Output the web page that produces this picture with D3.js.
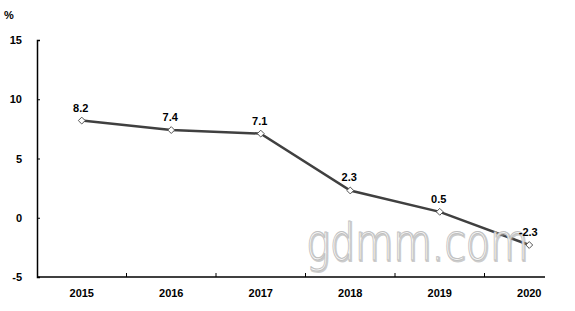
<!DOCTYPE html>
<html>
<head>
<meta charset="utf-8">
<script src="https://cdn.jsdelivr.net/npm/d3@7"></script>
<style>
body { margin: 0; background: #fff; }
svg { display: block; }
</style>
</head>
<body>
<div id="chart"></div>
<script>
var years = ["2015", "2016", "2017", "2018", "2019", "2020"];
var values = [8.2, 7.4, 7.1, 2.3, 0.5, -2.3];
var yTicks = [-5, 0, 5, 10, 15];

var width = 575, height = 311;
var plotLeft = 37, plotTop = 40, plotBottom = 277, plotRight = 574;

var svg = d3.select("#chart").append("svg")
	.attr("width", width)
	.attr("height", height);

var x = d3.scaleBand().domain(years).range([plotLeft, plotRight]);
var y = d3.scaleLinear().domain([-5, 15]).range([plotBottom, plotTop]);

var font = "Liberation Sans, Arial, sans-serif";

// y axis
var yAxis = svg.append("g")
	.attr("transform", "translate(" + plotLeft + ",0)")
	.call(d3.axisLeft(y).tickValues(yTicks).tickSize(-3).tickPadding(15)
		.tickFormat(function(d) { return String(d); }));
yAxis.select(".domain").attr("stroke", "#000").attr("stroke-width", 1.5);
yAxis.selectAll(".tick line").attr("stroke", "#000");
yAxis.selectAll(".tick text")
	.attr("font-family", font)
	.attr("font-size", 11)
	.attr("font-weight", "bold")
	.attr("fill", "#000");

svg.append("text")
	.attr("x", 4)
	.attr("y", 19)
	.attr("font-family", font)
	.attr("font-size", 11)
	.attr("font-weight", "bold")
	.text("%");

// x axis
var xAxis = svg.append("g")
	.attr("transform", "translate(0," + plotBottom + ")")
	.call(d3.axisBottom(x).tickSize(0).tickPadding(12));
xAxis.select(".domain").remove();
xAxis.selectAll(".tick text")
	.attr("font-family", font)
	.attr("font-size", 11)
	.attr("font-weight", "bold")
	.attr("fill", "#000");

svg.append("line")
	.attr("x1", plotLeft).attr("x2", 545)
	.attr("y1", plotBottom).attr("y2", plotBottom)
	.attr("stroke", "#000")
	.attr("stroke-width", 1.5);

svg.selectAll(".xsep")
	.data(years.slice(1))
	.enter().append("line")
	.attr("class", "xsep")
	.attr("x1", function(d) { return x(d); })
	.attr("x2", function(d) { return x(d); })
	.attr("y1", plotBottom)
	.attr("y2", plotBottom - 4)
	.attr("stroke", "#000");

// line
var line = d3.line()
	.x(function(d, i) { return x(years[i]) + x.bandwidth() / 2; })
	.y(function(d) { return y(d); });

svg.append("path")
	.datum(values)
	.attr("d", line)
	.attr("fill", "none")
	.attr("stroke", "#404040")
	.attr("stroke-width", 2.5);

// watermark (sits over the line, under markers and labels)
svg.append("text")
	.attr("x", 306)
	.attr("y", 260)
	.attr("font-family", "DejaVu Sans, sans-serif")
	.attr("font-size", 52)
	.attr("font-weight", 200)
	.attr("textLength", 222)
	.attr("lengthAdjust", "spacingAndGlyphs")
	.attr("fill", "none")
	.attr("stroke", "#999")
	.attr("stroke-opacity", 0.5)
	.attr("stroke-width", 2)
	.attr("transform", "translate(1,1)")
	.text("gdmm.com");

svg.append("text")
	.attr("x", 306)
	.attr("y", 260)
	.attr("font-family", "DejaVu Sans, sans-serif")
	.attr("font-size", 52)
	.attr("font-weight", 200)
	.attr("textLength", 222)
	.attr("lengthAdjust", "spacingAndGlyphs")
	.attr("fill", "#fff")
	.attr("fill-opacity", 0.9)
	.attr("stroke", "#c0c0c0")
	.attr("stroke-width", 1)
	.text("gdmm.com");

// markers
svg.selectAll(".pt")
	.data(values)
	.enter().append("path")
	.attr("class", "pt")
	.attr("d", d3.symbol().type(d3.symbolDiamond2).size(30))
	.attr("transform", function(d, i) {
		return "translate(" + (x(years[i]) + x.bandwidth() / 2) + "," + y(d) + ")";
	})
	.attr("fill", "#fff")
	.attr("stroke", "#555")
	.attr("stroke-width", 1);

svg.selectAll(".lbl")
	.data(values)
	.enter().append("text")
	.attr("class", "lbl")
	.attr("x", function(d, i) { return x(years[i]) + x.bandwidth() / 2 - 1; })
	.attr("y", function(d) { return y(d) - 9; })
	.attr("text-anchor", "middle")
	.attr("font-family", font)
	.attr("font-size", 11)
	.attr("font-weight", "bold")
	.text(function(d) { return d.toFixed(1); });
</script>
</body>
</html>
